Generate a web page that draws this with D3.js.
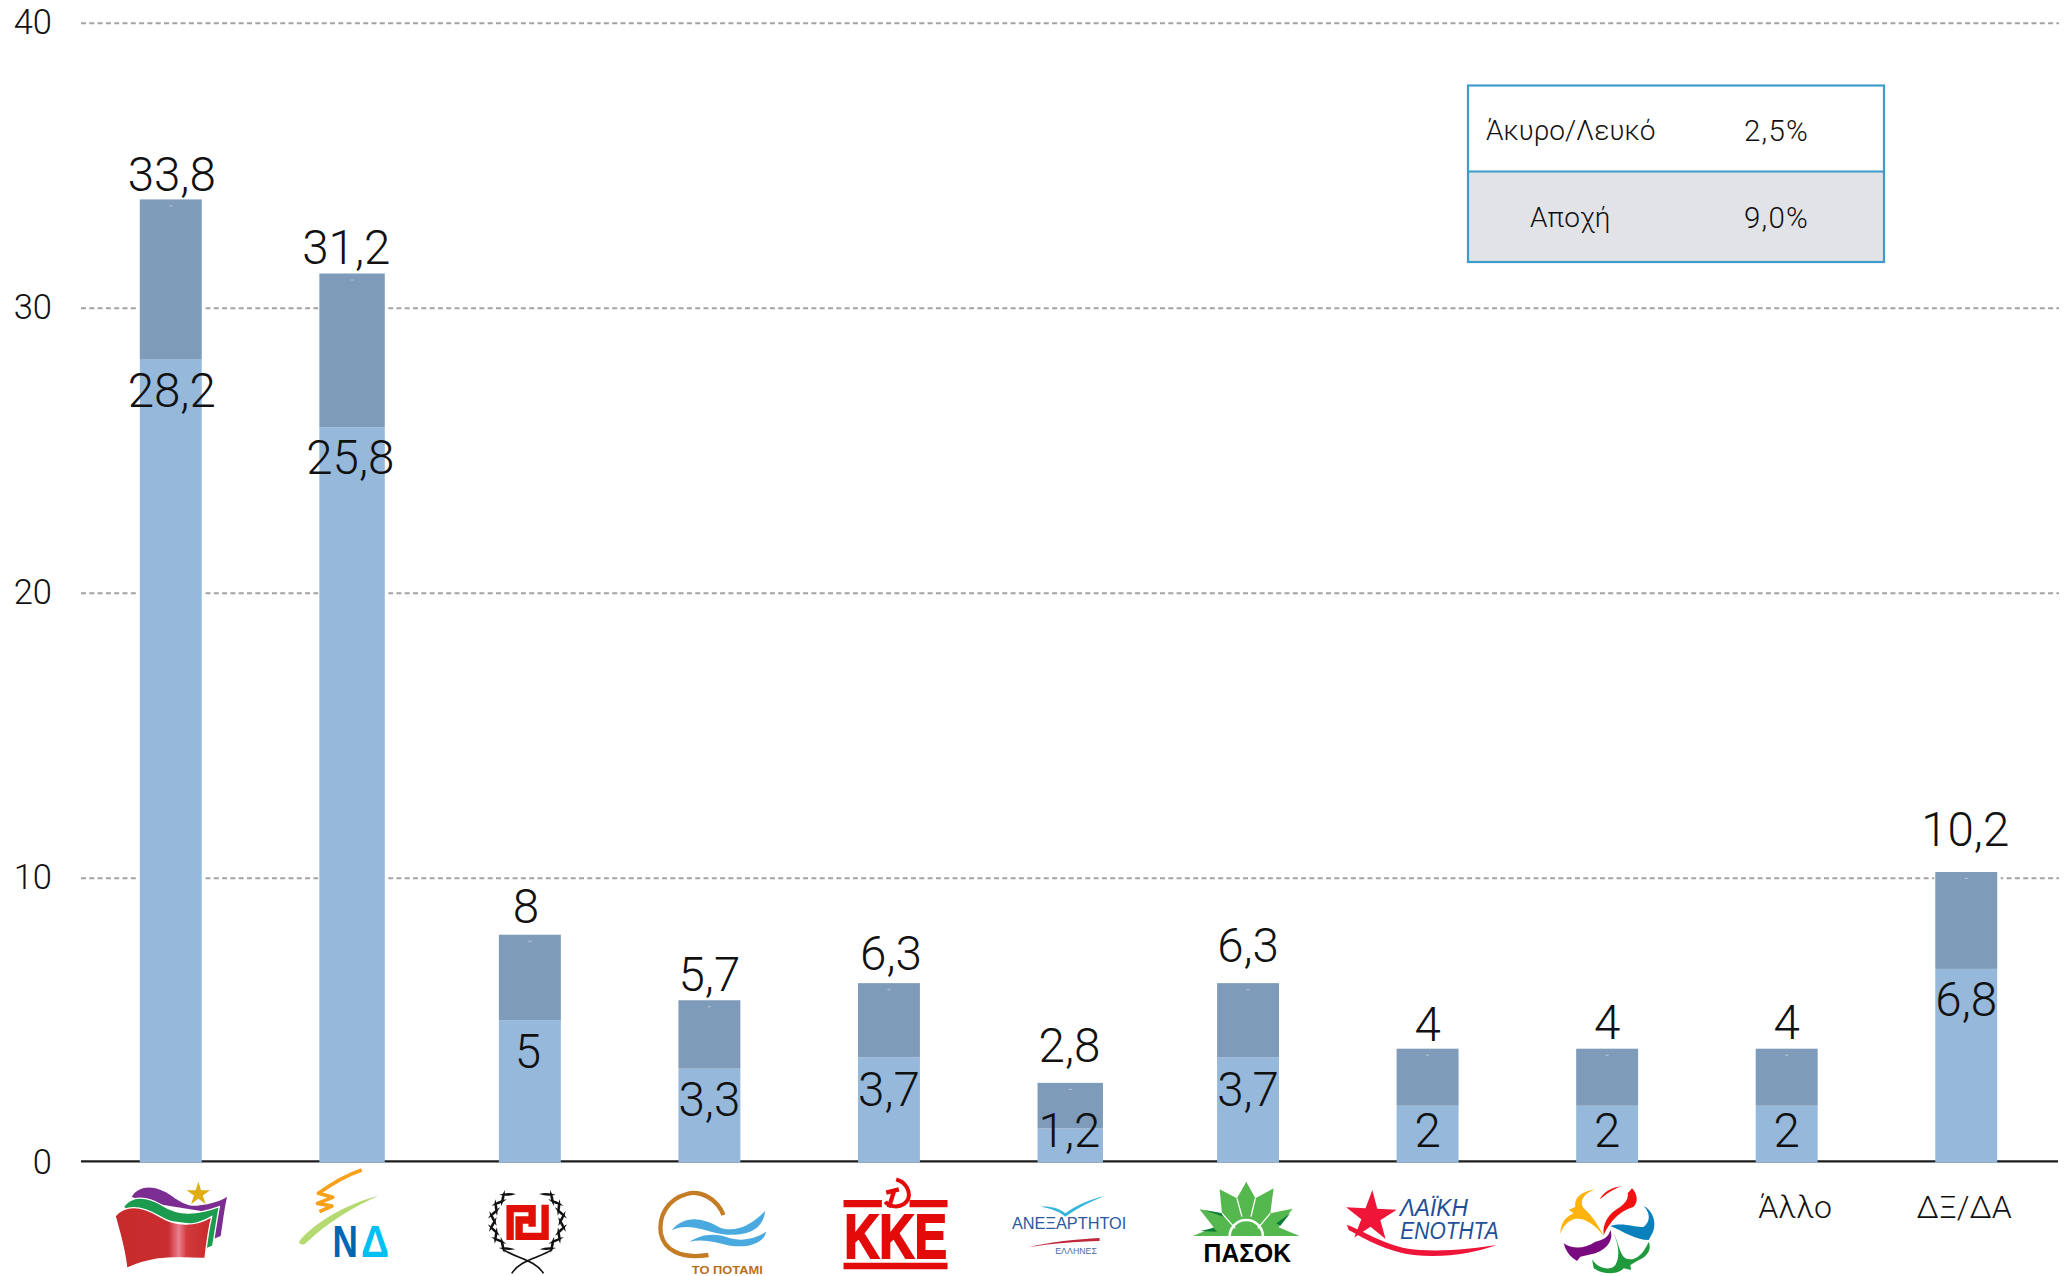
<!DOCTYPE html>
<html lang="el">
<head>
<meta charset="utf-8">
<title>Πρόθεση ψήφου</title>
<script src="https://cdn.jsdelivr.net/npm/d3@7"></script>
<style>
html,body{margin:0;padding:0;background:#fff;overflow:hidden}
svg{display:block}
text{font-family:Roboto,"Liberation Sans",sans-serif;font-weight:300;fill:#111}
.logo text{font-family:"Liberation Sans",sans-serif;font-weight:700}
</style>
</head>
<body>
<svg id="chart" width="2067" height="1276"></svg>
<script>
// ---- data ----
const categories = ["ΣΥΡΙΖΑ","ΝΔ","ΧΑ","Το Ποτάμι","ΚΚΕ","ΑΝΕΛ","ΠΑΣΟΚ","ΛΑΕ","ΕΚ","Άλλο","ΔΞ/ΔΑ"];
const lowerValues = [28.2,25.8,5,3.3,3.7,1.2,3.7,2,2,2,6.8];
const totalValues = [33.8,31.2,8,5.7,6.3,2.8,6.3,4,4,4,10.2];
const yTicks = [0,10,20,30,40];
const tableRows = ["Άκυρο/Λευκό","Αποχή"];
const tableValues = ["2,5%","9,0%"];

// ---- hand-placed layout of the annotations (px) ----
const totalLabelDy = [-8.7,-9.5,-11.7,-9,-13,-21,-21,-8,-10,-10,-26];
const totalLabelDx = [1,-4,-4,0,2,1,0,0,0,0,-1];
const lowerLabelDy = [48,47,47.4,47.4,49,18.5,49,41,41,41,47];
const lowerLabelDx = [1,0,-2,0,0,1,0,0,0,0,0];
const widerBars = new Set(["ΝΔ","ΑΝΕΛ"]);
const textCategories = new Set(["Άλλο","ΔΞ/ΔΑ"]);

const fmt = v => String(v).replace(".", ",");
const svg = d3.select("#chart");
const x = d3.scaleBand().domain(categories).range([81,2056]).paddingInner(0.655).paddingOuter(0.3275);
const y = d3.scaleLinear().domain([0,40]).range([1162.7,22.7]);
const rows = categories.map((c,i)=>({category:c,lower:lowerValues[i],upper:totalValues[i]-lowerValues[i],total:totalValues[i],i}));
const stacked = d3.stack().keys(["lower","upper"])(rows);
const barW = c => x.bandwidth() + (widerBars.has(c) ? 3.5 : 0);

// ---- y axis & grid ----
const yAxis = svg.append("g").attr("transform","translate(81,0)")
  .call(d3.axisLeft(y).tickValues(yTicks).tickSize(-1978).tickPadding(29).tickFormat(d3.format("d")));
yAxis.select(".domain").remove();
yAxis.selectAll(".tick line").attr("stroke","#a3a3a3").attr("stroke-width",2).attr("stroke-dasharray","5 3.3");
yAxis.selectAll(".tick text").style("font-size","34.5px").attr("dy","0.32em").attr("fill","#111");

// white halo that interrupts the grid beside each bar
svg.append("g").selectAll("rect").data(rows).join("rect")
  .attr("x",d=>x(d.category)-1).attr("width",d=>barW(d.category)+4.5)
  .attr("y",d=>y(d.total)).attr("height",d=>y(0)-y(d.total)-6).attr("fill","#fff");

// solid baseline
svg.append("line").attr("x1",81).attr("x2",2058).attr("y1",y(0)-1.4).attr("y2",y(0)-1.4)
  .attr("stroke","#1c1c1c").attr("stroke-width",2.2);
yAxis.selectAll(".tick").filter(d=>d===0).select("line").remove();

// ---- stacked bars ----
const barColors = ["#95b8db","#7e9cba"];
svg.append("g").selectAll("g").data(stacked).join("g").attr("fill",(d,i)=>barColors[i])
  .selectAll("rect").data(d=>d).join("rect")
  .attr("x",d=>x(d.data.category)).attr("width",d=>barW(d.data.category))
  .attr("y",d=>y(d[1])).attr("height",d=>y(d[0])-y(d[1]));
// tiny specks near the bar tops
svg.append("g").selectAll("rect").data(rows).join("rect")
  .attr("x",d=>x(d.category)+barW(d.category)/2-1.5).attr("width",3)
  .attr("y",d=>y(d.total)+6).attr("height",1).attr("fill","#b9c9d9");

// ---- value labels ----
const lab = svg.append("g").attr("text-anchor","middle").style("font-size","47.5px");
lab.selectAll(".tot").data(rows).join("text").attr("class","tot")
  .attr("x",d=>x(d.category)+x.bandwidth()/2+totalLabelDx[d.i])
  .attr("y",d=>y(d.total)+totalLabelDy[d.i]).text(d=>fmt(d.total));
lab.selectAll(".low").data(rows).join("text").attr("class","low")
  .attr("x",d=>x(d.category)+x.bandwidth()/2+lowerLabelDx[d.i])
  .attr("y",d=>y(d.lower)+lowerLabelDy[d.i]).text(d=>fmt(d.lower));

// ---- x axis (only two categories are written as text) ----
const xAxis = svg.append("g").attr("transform","translate(0,1162)")
  .call(d3.axisBottom(x).tickSize(0).tickFormat(c=>textCategories.has(c)?c:""));
xAxis.select(".domain").remove();
xAxis.selectAll(".tick text").style("font-size","32px").attr("y",56).attr("dy",0)
  .attr("dx",c=>c==="Άλλο"?8.5:-2).attr("fill","#111");

// ---- table ----
const tb = svg.append("g");
tb.append("rect").attr("x",1468).attr("y",171).attr("width",416).attr("height",91).attr("fill","#e2e3e7");
tb.append("rect").attr("x",1468).attr("y",85.5).attr("width",416).attr("height",176.5).attr("fill","none").attr("stroke","#3f9bc9").attr("stroke-width",2.2);
tb.append("line").attr("x1",1468).attr("x2",1884).attr("y1",171.5).attr("y2",171.5).attr("stroke","#3f9bc9").attr("stroke-width",2.2);
tb.selectAll(".rl").data(tableRows).join("text").attr("class","rl").style("font-size","28px")
  .attr("x",(d,i)=>i?1530:1486).attr("y",(d,i)=>i?227:140).text(d=>d);
tb.selectAll(".rv").data(tableValues).join("text").attr("class","rv").style("font-size","29.5px")
  .style("letter-spacing","1.2px").attr("x",1744).attr("y",(d,i)=>i?228:141).text(d=>d);

// ---- party logos (drawn in a 3x local space, anchored on the band centre) ----
function logo(cat, offset){
  return svg.append("g").attr("class","logo")
    .attr("transform",`translate(${x(cat)+x.bandwidth()/2-offset},1160) scale(${1/3})`);
}
const P=(g,d,fill,extra={})=>{const p=g.append("path").attr("d",d).attr("fill",fill);
  Object.entries(extra).forEach(([k,v])=>p.attr(k,v));return p;};
const T=(g,s,xp,yp,size,len,fill,extra={})=>{const t=g.append("text").attr("x",xp).attr("y",yp)
  .attr("textLength",len).attr("lengthAdjust","spacingAndGlyphs").style("font-size",size+"px").style("fill",fill).text(s);
  Object.entries(extra).forEach(([k,v])=>t.style(k,v));return t;};
const star=(cx,cy,R,r,rot=0)=>d3.range(10).map(i=>{const a=rot-Math.PI/2+i*Math.PI/5,q=i%2?r:R;
  return (i?"L":"M")+(cx+q*Math.cos(a)).toFixed(1)+","+(cy+q*Math.sin(a)).toFixed(1);}).join("")+"Z";

const defs = svg.append("defs");
const gr = defs.append("linearGradient").attr("id","flagRed");
[[0,"#c72a2a"],[.55,"#c92d30"],[.66,"#ea8090"],[.74,"#d23a3e"],[1,"#c72a2a"]]
  .forEach(([o,c])=>gr.append("stop").attr("offset",o).attr("stop-color",c));

// ΣΥΡΙΖΑ
{const g=logo("ΣΥΡΙΖΑ",70.75);
 P(g,"M95,110C120,72 170,76 215,108C245,130 270,142 300,136C330,132 360,124 381,110C372,150 368,190 362,228L338,238L345,160L130,125Z","#7b2d91");
 P(g,"M70,140C95,105 140,108 185,135C235,168 290,165 358,140C350,180 345,220 338,258L315,268L325,200L100,170Z","#1c9a4e",{stroke:"#fff","stroke-width":4});
 P(g,"M45,168C80,130 130,140 180,170C230,200 285,200 335,170C325,210 320,250 315,295C270,295 220,290 175,297C140,302 110,312 80,325C75,270 60,220 45,168Z","url(#flagRed)",{stroke:"#fff","stroke-width":4});
 P(g,star(295,102,37,14),"#e0ae10");}
// ΝΔ
{const g=logo("ΝΔ",250.25);
 P(g,"M785,30C740,45 690,75 655,100L698,112L652,130L696,138L658,155","none",{stroke:"#f9a11b","stroke-width":11,"stroke-linejoin":"round"});
 P(g,"M598,243C640,190 740,130 835,108C760,140 680,190 622,245C610,258 595,255 598,243Z","#b6da72");
 T(g,"Ν",697,290,132,76,"#0065b3",{"font-weight":700});
 T(g,"Δ",783,290,132,84,"#00bff3",{"font-weight":700});}
// ΧΑ
{const g=logo("ΧΑ",69.75);
 const leaves=[];
 d3.range(12).forEach(i=>{const a=Math.PI*(0.70+i*0.055);
   const px=202+104*Math.cos(a), py=185+100*Math.sin(a);
   const tilt=(a*180/Math.PI)+90;
   leaves.push([px,py,tilt+(i%2?32:-32)],[404-px,py,-tilt-(i%2?32:-32)]);});
 g.selectAll(".leaf").data(leaves).join("path").attr("d","M-25,0Q0,-8 25,0Q0,8 -25,0Z").attr("fill","#111")
  .attr("transform",d=>`translate(${d[0]},${d[1]}) rotate(${d[2]})`);
 P(g,"M128,268C170,295 225,300 250,340M277,268C235,295 180,300 155,340","none",{stroke:"#111","stroke-width":5});
 P(g,"M150,240V146H216V200M255,134V229H177V180H213","none",{stroke:"#e01006","stroke-width":22});}
// Το Ποτάμι
{const g=logo("Το Ποτάμι",249.25);
 P(g,"M790,165C770,115 720,90 680,102C620,118 595,170 602,220C612,270 660,298 745,285","none",{stroke:"#c47c25","stroke-width":13});
 P(g,"M635,210C670,168 720,168 780,203C830,220 880,190 915,152C910,210 860,228 800,224C740,218 690,185 635,210Z","#4aaae0");
 P(g,"M688,245C720,225 760,215 810,235C850,245 890,235 918,215C912,250 860,265 810,257C770,248 730,235 688,245Z","#4aaae0");
 T(g,"ΤΟ ΠΟΤΑΜΙ",695,343,30,213,"#b96f1a");}
// ΚΚΕ
{const g=logo("ΚΚΕ",68.75);
 P(g,"M70,120H185V142H70ZM268,120H382V142H268ZM70,308H382V328H70Z","#e30a0a");
 T(g,"ΚΚΕ",72,293,188,308,"#e30a0a",{stroke:"#e30a0a","stroke-width":"6px"});
 P(g,"M228,58C268,70 278,115 250,133C230,145 205,138 195,125","none",{stroke:"#e30a0a","stroke-width":12});
 P(g,"M198,98L236,88M222,92L206,142","none",{stroke:"#e30a0a","stroke-width":13});}
// ΑΝΕΛ
{const g=logo("ΑΝΕΛ",248.25);
 P(g,"M662,140C690,138 720,146 735,160C770,135 810,118 852,108C810,125 770,145 735,170C720,155 690,145 662,140Z","#35b5dc");
 T(g,"ΑΝΕΞΑΡΤΗΤΟΙ",575,208,48,343,"#2a5a9f",{"font-weight":400});
 P(g,"M625,262C690,245 770,238 838,234L838,243C770,245 690,250 625,262Z","#c0283c");
 T(g,"ΕΛΛΗΝΕΣ",705,283,25,125,"#4a6a9a",{"font-weight":400});}
// ΠΑΣΟΚ
{const g=logo("ΠΑΣΟΚ",67.75);
 P(g,"M38,228L100,202L58,148L125,160L118,88L170,115L198,65L225,115L280,85L270,160L337,146L295,202L358,228Z","#55b84e");
 P(g,"M72,150L125,160L130,170ZM205,78L228,145L218,115ZM330,160L300,197L288,190ZM60,213L100,204L110,215Z","#0e7a3a");
 P(g,"M125,160L165,205M270,160L232,205M170,115L185,170M225,115L212,170","none",{stroke:"#fff","stroke-width":4});
 P(g,"M148,230A50,50 0 0 1 248,230","none",{stroke:"#fff","stroke-width":8});
 T(g,"ΠΑΣΟΚ",70,305,76,262,"#000");}
// ΛΑΕ
{const g=logo("ΛΑΕ",247.25);
 P(g,"M500,195C560,215 620,265 720,270C800,275 880,265 950,255C880,280 790,295 700,285C620,275 560,240 505,210Z","#ee1538");
 P(g,star(572,170,80,30,0.05),"#ee1538");
 T(g,"ΛΑΪΚΗ",658,168,70,205,"#1f4f96",{"font-weight":400,"font-style":"italic"});
 T(g,"ΕΝΟΤΗΤΑ",660,238,70,295,"#1f4f96",{"font-weight":400,"font-style":"italic"});}
// ΕΚ
{const g=logo("ΕΚ",66.75);
 P(g,"M60,222C60,190 75,170 100,160L85,150L105,140C100,115 120,95 165,88C130,100 115,125 130,145C155,165 175,200 190,228C165,195 130,170 100,178C80,185 68,200 60,222Z","#ffb30f");
 P(g,"M178,118C190,95 215,82 245,78C215,88 195,105 178,118Z","#f21010");
 P(g,"M190,225C185,190 205,160 240,140C255,130 265,115 262,100L275,85C290,100 295,125 280,140C250,150 215,170 190,225Z","#f21010");
 P(g,"M210,198C250,185 290,205 310,200C325,190 335,165 310,138C335,150 350,185 338,215L325,240C285,240 250,215 210,198Z","#0a80bd");
 P(g,"M215,215C235,240 235,280 255,295C280,305 305,290 325,245C335,270 320,290 295,300L270,315L272,330L250,325C230,345 190,345 160,325L155,298C170,325 210,335 225,315C240,290 235,245 215,215Z","#1e9a3c");
 P(g,"M210,210C220,235 205,265 165,280L120,290L110,303L98,295C85,285 75,270 70,250C100,270 135,265 165,245C190,240 205,230 210,210Z","#7a0a7f");}
</script>
</body>
</html>
